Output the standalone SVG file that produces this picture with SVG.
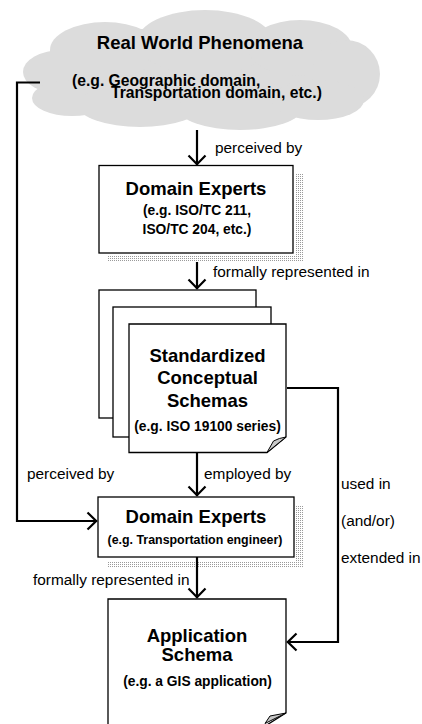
<svg xmlns="http://www.w3.org/2000/svg" width="422" height="724" viewBox="0 0 422 724">
  <style>
    text { font-family: "Liberation Sans", Arial, sans-serif; fill: #000; }
    .b { font-weight: bold; }
    .t18 { font-size: 18.5px; }
    .t16 { font-size: 15.7px; }
    .t14 { font-size: 13.8px; }
    .lbl { font-size: 15.4px; }
    .mid { text-anchor: middle; }
    .box { fill: #fff; stroke: #000; stroke-width: 1.3; }
    .page { fill: #fff; stroke: #000; stroke-width: 1.3; }
    .curl { fill: #c8c8c8; stroke: #000; stroke-width: 1; stroke-linejoin: round; }
    .shadow { fill: url(#dots); }
    .conn { fill: none; stroke: #000; stroke-width: 2.2; }
  </style>
  <defs>
    <pattern id="dots" width="2" height="2" patternUnits="userSpaceOnUse">
      <rect width="1" height="1" fill="#9a9a9a"/>
    </pattern>
    <marker id="arr" viewBox="-12 -10 14 20" markerWidth="14" markerHeight="20" refX="0" refY="0" orient="auto" markerUnits="userSpaceOnUse">
      <path d="M-9.5,-8.5 L-0.8,0 L-9.5,8.5" fill="none" stroke="#000" stroke-width="2.2"/>
    </marker>
  </defs>

  <rect width="422" height="724" fill="#fff"/>

  <!-- cloud -->
  <g id="phenomena">
    <g fill="#dcdcdc">
      <ellipse cx="200" cy="72" rx="165" ry="46"/>
      <ellipse cx="105" cy="50" rx="55" ry="28"/>
      <ellipse cx="205" cy="42" rx="68" ry="32"/>
      <ellipse cx="300" cy="48" rx="52" ry="28"/>
      <ellipse cx="346" cy="74" rx="34" ry="34"/>
      <ellipse cx="62" cy="72" rx="39" ry="22"/>
      <ellipse cx="72" cy="98" rx="40" ry="18"/>
      <ellipse cx="140" cy="105" rx="62" ry="22"/>
      <ellipse cx="240" cy="108" rx="62" ry="22"/>
      <ellipse cx="318" cy="100" rx="46" ry="20"/>
    </g>
    <text class="b t18 mid" x="200" y="48.5">Real World Phenomena</text>
    <text class="b t16" x="72" y="86">(e.g. Geographic domain,</text>
    <text class="b t16" x="111" y="97.5">Transportation domain, etc.)</text>
  </g>

  <!-- standards experts -->
  <g id="experts-std">
    <path class="shadow" d="M295,174 H304 V262 H108 V255 H295 Z"/>
    <rect class="box" x="99" y="165.5" width="194" height="87.5"/>
    <text class="b t18 mid" x="196" y="194.5">Domain Experts</text>
    <text class="b t14 mid" x="197" y="215">(e.g. ISO/TC 211,</text>
    <text class="b t14 mid" x="197" y="234">ISO/TC 204, etc.)</text>
  </g>

  <!-- stack of conceptual schemas -->
  <g id="schemas">
    <rect class="page" x="99" y="290" width="157" height="128"/>
    <rect class="page" x="113" y="307" width="158" height="130"/>
    <path class="page" d="M129,324 H286 V437 L267,452.5 H129 Z"/>
    <path class="curl" d="M286,437 Q279,438 273.5,441 L267,452.5 Z"/>
    <text class="b t18 mid" x="207.5" y="361.5">Standardized</text>
    <text class="b t18 mid" x="207.5" y="384">Conceptual</text>
    <text class="b t18 mid" x="207.5" y="406.5">Schemas</text>
    <text class="b t14 mid" x="207.5" y="431">(e.g. ISO 19100 series)</text>
  </g>

  <!-- application experts -->
  <g id="experts-app">
    <path class="shadow" d="M296,505 H304 V567 H107 V561 H296 Z"/>
    <rect class="box" x="98" y="497" width="196" height="60"/>
    <text class="b t18 mid" x="196" y="523">Domain Experts</text>
    <text class="b mid" x="195" y="543.5" font-size="12.4">(e.g. Transportation engineer)</text>
  </g>

  <!-- application schema -->
  <g id="app-schema">
    <path class="page" d="M108,740 V599 H286 V713 L262,728"/>
    <path class="curl" d="M286,713 L270,716 L265,723.5 Z"/>
    <text class="b t18 mid" x="197" y="642">Application</text>
    <text class="b t18 mid" x="197" y="661">Schema</text>
    <text class="b t14 mid" x="197.5" y="686">(e.g. a GIS application)</text>
  </g>

  <!-- connectors -->
  <g id="connectors">
    <path class="conn" d="M197,130 V165" marker-end="url(#arr)"/>
    <path class="conn" d="M197,262 V289" marker-end="url(#arr)"/>
    <path class="conn" d="M197,453 V496" marker-end="url(#arr)"/>
    <path class="conn" d="M197,557 V598" marker-end="url(#arr)"/>
    <path class="conn" d="M40,82.5 H17 V521 H97" marker-end="url(#arr)"/>
    <path class="conn" d="M287,388 H338 V642 H287" marker-end="url(#arr)"/>
  </g>

  <!-- connector labels -->
  <g id="labels">
    <text class="lbl" x="215" y="152.5">perceived by</text>
    <text class="lbl" x="213" y="277">formally represented in</text>
    <text class="lbl" x="27" y="479">perceived by</text>
    <text class="lbl" x="204" y="479">employed by</text>
    <text class="lbl" x="341" y="488.5">used in</text>
    <text class="lbl" x="341" y="525.5">(and/or)</text>
    <text class="lbl" x="341" y="563">extended in</text>
    <text class="lbl" x="33" y="585">formally represented in</text>
  </g>
</svg>
